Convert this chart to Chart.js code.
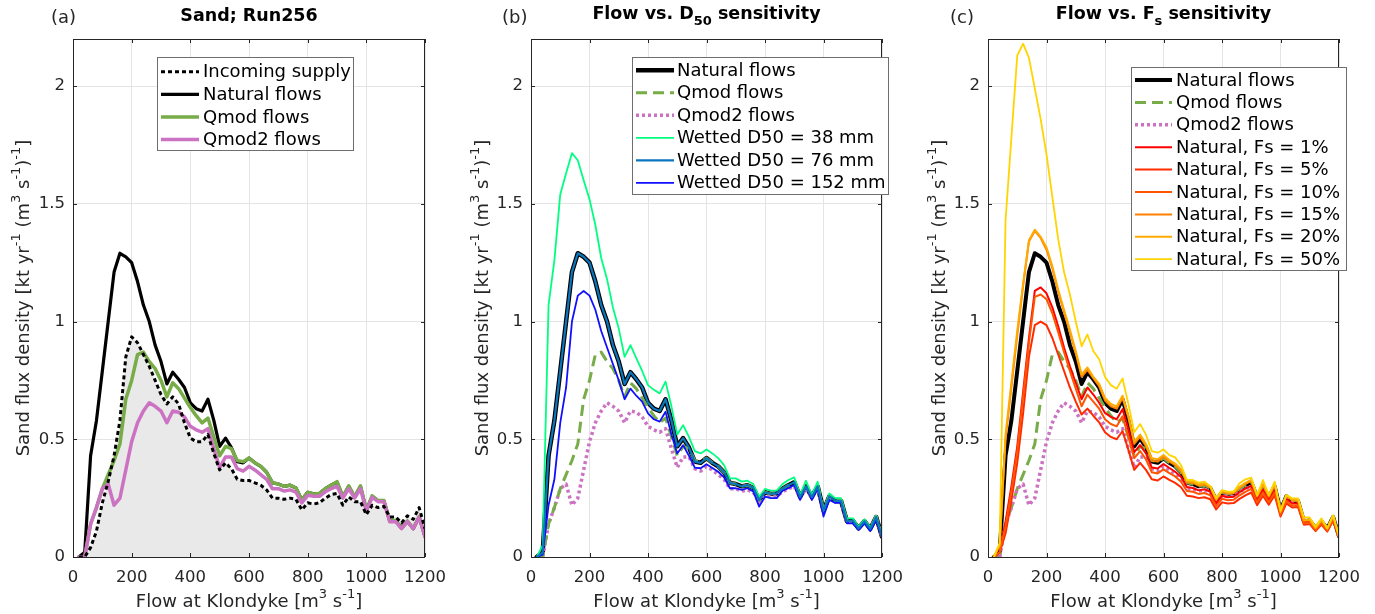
<!DOCTYPE html>
<html>
<head>
<meta charset="utf-8">
<script src="https://cdn.jsdelivr.net/npm/chart.js@4.4.1/dist/chart.umd.min.js"></script>
<style>
  body { margin: 0; background: #fff; width: 1375px; height: 614px; overflow: hidden; position: relative; }
  .panel { position: absolute; top: 0; width: 457px; height: 614px; }
</style>
</head>
<body>
<div class="panel" style="left:0"><canvas id="chartA" width="457" height="614"></canvas></div>
<div class="panel" style="left:457px"><canvas id="chartB" width="457" height="614"></canvas></div>
<div class="panel" style="left:914px"><canvas id="chartC" width="457" height="614"></canvas></div>
<script>
// flow bins at Klondyke [m3/s]
const flows = [20, 40, 60, 80, 100, 120, 140, 160, 180, 200,
  220, 240, 260, 280, 300, 320, 340, 360, 380, 400,
  420, 440, 460, 480, 500, 520, 540, 560, 580, 600,
  620, 640, 660, 680, 700, 720, 740, 760, 780, 800,
  820, 840, 860, 880, 900, 920, 940, 960, 980, 1000,
  1020, 1040, 1060, 1080, 1100, 1120, 1140, 1160, 1180, 1200];
const xTicks = [0, 200, 400, 600, 800, 1000, 1200];
const yTicks = [0, 0.5, 1, 1.5, 2];

// sand flux density [kt/yr per m3/s]
const incomingSupply = [0, 0, 0.04, 0.11, 0.23, 0.32, 0.43, 0.58, 0.85, 0.935,
  0.91, 0.86, 0.81, 0.75, 0.69, 0.65, 0.68, 0.65, 0.57, 0.505,
  0.49, 0.49, 0.52, 0.44, 0.37, 0.40, 0.375, 0.33, 0.325, 0.325,
  0.315, 0.305, 0.285, 0.25, 0.25, 0.245, 0.25, 0.245, 0.20, 0.23,
  0.225, 0.23, 0.25, 0.265, 0.27, 0.22, 0.255, 0.235, 0.235, 0.18,
  0.22, 0.21, 0.215, 0.17, 0.17, 0.145, 0.175, 0.16, 0.21, 0.12];
const naturalFlows = [0, 0.02, 0.43, 0.58, 0.79, 1.0, 1.21, 1.29, 1.275, 1.25,
  1.17, 1.07, 1.0, 0.9, 0.83, 0.735, 0.785, 0.755, 0.72, 0.655,
  0.63, 0.62, 0.67, 0.58, 0.47, 0.505, 0.465, 0.405, 0.4, 0.42,
  0.4, 0.385, 0.36, 0.315, 0.31, 0.3, 0.305, 0.293, 0.242, 0.275,
  0.268, 0.27, 0.29, 0.305, 0.318, 0.255, 0.3, 0.255, 0.3, 0.198,
  0.258, 0.238, 0.238, 0.152, 0.155, 0.122, 0.152, 0.12, 0.17, 0.087];
const qmodFlows = [0, 0, 0.14, 0.21, 0.29, 0.35, 0.41, 0.48, 0.67, 0.75,
  0.86, 0.87, 0.83, 0.8, 0.75, 0.68, 0.74, 0.715, 0.675, 0.635,
  0.6, 0.57, 0.59, 0.51, 0.43, 0.47, 0.46, 0.41, 0.405, 0.42,
  0.4, 0.385, 0.36, 0.315, 0.31, 0.3, 0.305, 0.293, 0.242, 0.275,
  0.268, 0.27, 0.29, 0.305, 0.32, 0.256, 0.302, 0.256, 0.302, 0.2,
  0.26, 0.24, 0.24, 0.152, 0.155, 0.122, 0.152, 0.122, 0.172, 0.087];
const qmod2Flows = [0, 0, 0.14, 0.21, 0.29, 0.31, 0.22, 0.25, 0.37, 0.49,
  0.57, 0.62, 0.655, 0.64, 0.62, 0.57, 0.62, 0.615, 0.595, 0.555,
  0.54, 0.53, 0.545, 0.46, 0.38, 0.425, 0.425, 0.375, 0.365, 0.385,
  0.37, 0.35, 0.33, 0.29, 0.29, 0.28, 0.285, 0.275, 0.23, 0.262,
  0.258, 0.258, 0.277, 0.29, 0.3, 0.25, 0.29, 0.25, 0.29, 0.195,
  0.253, 0.235, 0.235, 0.15, 0.15, 0.12, 0.15, 0.12, 0.17, 0.085];

// panel (b): wetted D50 sensitivity
const wetted38 = [0, 0.05, 1.07, 1.26, 1.54, 1.63, 1.715, 1.685, 1.6, 1.52,
  1.41, 1.27, 1.18, 1.06, 0.97, 0.85, 0.9, 0.845, 0.79, 0.73,
  0.71, 0.695, 0.745, 0.64, 0.52, 0.56, 0.51, 0.45, 0.44, 0.457,
  0.44, 0.42, 0.39, 0.334, 0.334, 0.32, 0.324, 0.31, 0.256, 0.289,
  0.282, 0.282, 0.31, 0.327, 0.338, 0.263, 0.324, 0.263, 0.32, 0.195,
  0.27, 0.25, 0.25, 0.164, 0.164, 0.128, 0.16, 0.126, 0.175, 0.088];
const wetted76 = [0, 0.02, 0.43, 0.58, 0.79, 1.0, 1.21, 1.29, 1.275, 1.25,
  1.17, 1.07, 1.0, 0.9, 0.83, 0.735, 0.785, 0.755, 0.72, 0.655,
  0.63, 0.62, 0.67, 0.58, 0.47, 0.505, 0.465, 0.405, 0.4, 0.42,
  0.4, 0.385, 0.36, 0.315, 0.31, 0.3, 0.305, 0.293, 0.242, 0.275,
  0.268, 0.27, 0.29, 0.305, 0.318, 0.255, 0.3, 0.255, 0.3, 0.198,
  0.258, 0.238, 0.238, 0.152, 0.155, 0.122, 0.152, 0.12, 0.17, 0.087];
const wetted152 = [0, 0.01, 0.22, 0.33, 0.57, 0.72, 1.0, 1.11, 1.13, 1.11,
  1.05, 0.96, 0.89, 0.82, 0.75, 0.67, 0.715, 0.685, 0.66, 0.61,
  0.585, 0.575, 0.617, 0.52, 0.44, 0.475, 0.43, 0.38, 0.377, 0.394,
  0.378, 0.362, 0.338, 0.292, 0.292, 0.285, 0.292, 0.278, 0.214, 0.256,
  0.25, 0.25, 0.282, 0.292, 0.306, 0.242, 0.3, 0.242, 0.292, 0.172,
  0.242, 0.23, 0.23, 0.143, 0.143, 0.115, 0.143, 0.11, 0.157, 0.08];

// panel (c): surface sand fraction sensitivity
const fs1 = [0, 0.02, 0.15, 0.3, 0.47, 0.7, 0.93, 1.13, 1.145, 1.12,
  1.06, 0.98, 0.89, 0.81, 0.74, 0.67, 0.72, 0.69, 0.655, 0.612,
  0.595, 0.585, 0.628, 0.54, 0.445, 0.475, 0.44, 0.38, 0.376, 0.395,
  0.378, 0.362, 0.34, 0.297, 0.293, 0.283, 0.288, 0.277, 0.228, 0.26,
  0.254, 0.256, 0.275, 0.29, 0.302, 0.243, 0.286, 0.243, 0.286, 0.188,
  0.246, 0.227, 0.227, 0.146, 0.149, 0.117, 0.146, 0.115, 0.163, 0.084];
const fs5 = [0, 0.02, 0.1, 0.24, 0.4, 0.61, 0.85, 0.985, 1.0, 0.985,
  0.93, 0.86, 0.79, 0.72, 0.66, 0.605, 0.63, 0.6, 0.572, 0.53,
  0.51, 0.5, 0.535, 0.455, 0.37, 0.4, 0.37, 0.33, 0.325, 0.342,
  0.328, 0.315, 0.296, 0.26, 0.257, 0.25, 0.254, 0.245, 0.202, 0.232,
  0.227, 0.229, 0.247, 0.262, 0.274, 0.22, 0.26, 0.222, 0.262, 0.172,
  0.228, 0.21, 0.212, 0.137, 0.14, 0.11, 0.138, 0.108, 0.155, 0.08];
const fs10 = [0, 0.02, 0.13, 0.28, 0.45, 0.68, 0.91, 1.105, 1.115, 1.095,
  1.035, 0.955, 0.87, 0.79, 0.715, 0.64, 0.69, 0.66, 0.63, 0.585,
  0.565, 0.555, 0.598, 0.51, 0.42, 0.45, 0.415, 0.36, 0.355, 0.372,
  0.356, 0.342, 0.32, 0.28, 0.277, 0.268, 0.272, 0.262, 0.216, 0.247,
  0.241, 0.243, 0.262, 0.277, 0.289, 0.232, 0.274, 0.233, 0.274, 0.18,
  0.238, 0.219, 0.22, 0.142, 0.145, 0.114, 0.142, 0.112, 0.159, 0.082];
const fs15 = [0, 0.05, 0.5, 0.72, 0.94, 1.15, 1.34, 1.385, 1.355, 1.305,
  1.225, 1.125, 1.04, 0.955, 0.865, 0.765, 0.795, 0.76, 0.725, 0.665,
  0.64, 0.63, 0.675, 0.59, 0.48, 0.51, 0.47, 0.41, 0.405, 0.425,
  0.405, 0.39, 0.365, 0.317, 0.315, 0.303, 0.308, 0.295, 0.243, 0.277,
  0.27, 0.271, 0.294, 0.31, 0.323, 0.257, 0.306, 0.257, 0.306, 0.198,
  0.26, 0.24, 0.24, 0.154, 0.157, 0.123, 0.154, 0.121, 0.172, 0.087];
const fs20 = [0, 0.05, 0.52, 0.74, 0.96, 1.16, 1.345, 1.39, 1.36, 1.315,
  1.235, 1.135, 1.05, 0.965, 0.875, 0.775, 0.805, 0.765, 0.735, 0.675,
  0.65, 0.64, 0.685, 0.6, 0.49, 0.52, 0.48, 0.42, 0.415, 0.433,
  0.412, 0.397, 0.372, 0.322, 0.32, 0.308, 0.313, 0.3, 0.246, 0.28,
  0.273, 0.274, 0.298, 0.315, 0.328, 0.26, 0.31, 0.26, 0.31, 0.2,
  0.262, 0.243, 0.243, 0.156, 0.158, 0.124, 0.156, 0.122, 0.174, 0.088];
const fs50 = [0, 0.06, 1.43, 1.78, 2.13, 2.18, 2.12, 1.99, 1.86, 1.71,
  1.53, 1.35, 1.21, 1.115, 1.0, 0.895, 0.945, 0.875, 0.84, 0.765,
  0.73, 0.715, 0.758, 0.65, 0.53, 0.565, 0.52, 0.45, 0.443, 0.457,
  0.433, 0.423, 0.39, 0.327, 0.327, 0.316, 0.32, 0.301, 0.25, 0.284,
  0.278, 0.278, 0.313, 0.33, 0.337, 0.263, 0.327, 0.263, 0.32, 0.192,
  0.263, 0.249, 0.249, 0.168, 0.168, 0.128, 0.164, 0.121, 0.178, 0.086];

const FONT = "'DejaVu Sans', Verdana, sans-serif";
const TXT = '#262626';
const GREEN = '#77ac48';
const PINK = '#cc72c2';

const xLabel = [['Flow at Klondyke [m'], ['3', 'sup'], [' s'], ['-1', 'sup'], [']']];
const yLabel = [['Sand flux density [kt yr'], ['-1', 'sup'], [' (m'], ['3', 'sup'], [' s'], ['-1', 'sup'], [')'], ['-1', 'sup'], [']']];

function pts(values) {
  return values.map((v, i) => ({ x: flows[i], y: v }));
}

function line(label, values, color, width, order, dash) {
  return {
    label: label, data: pts(values), borderColor: color, borderWidth: width,
    borderDash: dash || [], order: order, pointRadius: 0, tension: 0,
    borderJoinStyle: 'round', borderCapStyle: dash ? 'butt' : 'round', fill: false
  };
}

// text with super/subscripts: parts = [[text, 'sup'|'sub'], ...]
function drawRich(ctx, parts, x, y, size, bold, align) {
  const big = (bold ? 'bold ' : '') + size + 'px ' + FONT;
  const small = (bold ? 'bold ' : '') + Math.round(size * 0.72) + 'px ' + FONT;
  let w = 0;
  parts.forEach(p => { ctx.font = p[1] ? small : big; w += ctx.measureText(p[0]).width; });
  let cx = align === 'center' ? x - w / 2 : x;
  ctx.textAlign = 'left';
  ctx.textBaseline = 'middle';
  parts.forEach(p => {
    ctx.font = p[1] ? small : big;
    const dy = p[1] === 'sup' ? -size * 0.42 : p[1] === 'sub' ? size * 0.45 : 0;
    ctx.fillText(p[0], cx, y + dy);
    cx += ctx.measureText(p[0]).width;
  });
}

const decorations = {
  id: 'decorations',
  afterDraw(chart, args, opts) {
    const ctx = chart.ctx;
    const a = chart.chartArea;
    const xs = chart.scales.x, ys = chart.scales.y;
    ctx.save();
    // box and inward ticks
    ctx.strokeStyle = TXT;
    ctx.lineWidth = 1;
    ctx.strokeRect(Math.round(a.left) + 0.5, Math.round(a.top) + 0.5, Math.round(a.width) - 1, Math.round(a.height));
    ctx.beginPath();
    xTicks.forEach(v => {
      const px = Math.round(xs.getPixelForValue(v)) + 0.5;
      ctx.moveTo(px, a.bottom); ctx.lineTo(px, a.bottom - 4);
      ctx.moveTo(px, a.top); ctx.lineTo(px, a.top + 4);
    });
    yTicks.forEach(v => {
      const py = Math.round(ys.getPixelForValue(v)) + 0.5;
      ctx.moveTo(a.left, py); ctx.lineTo(a.left + 4, py);
      ctx.moveTo(a.right, py); ctx.lineTo(a.right - 4, py);
    });
    ctx.stroke();

    // titles
    ctx.fillStyle = '#000';
    drawRich(ctx, opts.title, (a.left + a.right) / 2, opts.titleY, 17.5, true, 'center');
    ctx.fillStyle = TXT;
    drawRich(ctx, [[opts.letter]], opts.letterX, 18, 18, false, 'left');
    drawRich(ctx, xLabel, (a.left + a.right) / 2, 602, 18, false, 'center');
    ctx.save();
    ctx.translate(opts.yLabelX, (a.top + a.bottom) / 2);
    ctx.rotate(-Math.PI / 2);
    drawRich(ctx, yLabel, 0, 0, 18, false, 'center');
    ctx.restore();

    // legend box
    const L = opts.legend;
    ctx.fillStyle = '#fff';
    ctx.fillRect(L.x, L.y, L.w, L.h);
    ctx.strokeStyle = '#6e6e6e';
    ctx.strokeRect(L.x + 0.5, L.y + 0.5, L.w, L.h);
    chart.data.datasets.forEach((ds, i) => {
      const y = L.row0 + i * L.step;
      ctx.save();
      ctx.strokeStyle = ds.borderColor;
      ctx.lineWidth = ds.borderWidth;
      ctx.setLineDash(ds.borderDash);
      ctx.lineCap = 'butt';
      ctx.beginPath();
      ctx.moveTo(L.sx, y);
      ctx.lineTo(L.sx + L.slen, y);
      ctx.stroke();
      ctx.restore();
      ctx.fillStyle = '#000';
      drawRich(ctx, [[ds.label]], L.tx, y + 1, 18, false, 'left');
    });
    ctx.restore();
  }
};

function makePanel(id, datasets, deco, yAxisWidth) {
  new Chart(document.getElementById(id).getContext('2d'), {
    type: 'line',
    data: { datasets: datasets },
    plugins: [decorations],
    options: {
      responsive: false,
      animation: false,
      devicePixelRatio: 1,
      layout: { padding: { top: 39, right: 20, left: 0, bottom: 0 } },
      plugins: {
        legend: { display: false },
        tooltip: { enabled: false },
        filler: { drawTime: 'beforeDatasetsDraw' },
        decorations: deco
      },
      scales: {
        x: {
          type: 'linear', min: 0, max: 1200,
          afterFit: s => { s.height = 57; },
          afterBuildTicks: s => { s.ticks = xTicks.map(v => ({ value: v })); },
          grid: { color: '#e4e4e4', drawTicks: false },
          border: { display: false },
          ticks: { color: TXT, font: { family: FONT, size: 16.5 }, padding: 11, maxRotation: 0, autoSkip: false,
                   callback: v => String(v) }
        },
        y: {
          type: 'linear', min: 0, max: 2.2,
          afterFit: s => { s.width = yAxisWidth; },
          afterBuildTicks: s => { s.ticks = yTicks.map(v => ({ value: v })); },
          grid: { color: '#e4e4e4', drawTicks: false },
          border: { display: false },
          ticks: { color: TXT, font: { family: FONT, size: 16.5 }, padding: 8, callback: v => String(v) }
        }
      }
    }
  });
}

document.addEventListener('DOMContentLoaded', () => {
  makePanel('chartA', [
    Object.assign(line('Incoming supply', incomingSupply, '#000', 3, 0, [4, 3]), { fill: 'origin', backgroundColor: '#e9e9e9' }),
    line('Natural flows', naturalFlows, '#000', 3.2, 3),
    line('Qmod flows', qmodFlows, GREEN, 3.5, 2),
    line('Qmod2 flows', qmod2Flows, PINK, 3.5, 1)
  ], {
    title: [['Sand; Run256']], titleY: 16, letter: '(a)', letterX: 51, yLabelX: 24,
    legend: { x: 157, y: 57, w: 196, h: 93, row0: 71.7, step: 22.6, sx: 161, slen: 38, tx: 203 }
  }, 73);

  makePanel('chartB', [
    line('Natural flows', naturalFlows, '#000', 4.5, 5),
    line('Qmod flows', qmodFlows, GREEN, 3, 3, [11, 6]),
    line('Qmod2 flows', qmod2Flows, PINK, 3.5, 4, [3, 3]),
    line('Wetted D50 = 38 mm', wetted38, '#00ff80', 1.8, 2),
    line('Wetted D50 = 76 mm', wetted76, '#0a76bd', 2.2, 0),
    line('Wetted D50 = 152 mm', wetted152, '#1010ff', 1.8, 1)
  ], {
    title: [['Flow vs. D'], ['50', 'sub'], [' sensitivity']], titleY: 14, letter: '(b)', letterX: 45, yLabelX: 26,
    legend: { x: 175, y: 57, w: 256, h: 137, row0: 70.3, step: 22.5, sx: 179, slen: 38, tx: 220 }
  }, 74);

  makePanel('chartC', [
    line('Natural flows', naturalFlows, '#000', 4, 8),
    line('Qmod flows', qmodFlows, GREEN, 3, 7, [11, 6]),
    line('Qmod2 flows', qmod2Flows, PINK, 3.5, 6, [3, 3]),
    line('Natural, Fs = 1%', fs1, '#ff0000', 2, 5),
    line('Natural, Fs = 5%', fs5, '#ff2a00', 2, 4),
    line('Natural, Fs = 10%', fs10, '#ff5500', 2, 3),
    line('Natural, Fs = 15%', fs15, '#ff8000', 2, 2),
    line('Natural, Fs = 20%', fs20, '#ffaa00', 2, 1),
    line('Natural, Fs = 50%', fs50, '#ffd500', 1.8, 0)
  ], {
    title: [['Flow vs. F'], ['s', 'sub'], [' sensitivity']], titleY: 14, letter: '(c)', letterX: 36, yLabelX: 26,
    legend: { x: 217, y: 67, w: 215, h: 203, row0: 80, step: 22.4, sx: 221, slen: 37, tx: 262 }
  }, 74);
});
</script>
</body>
</html>
